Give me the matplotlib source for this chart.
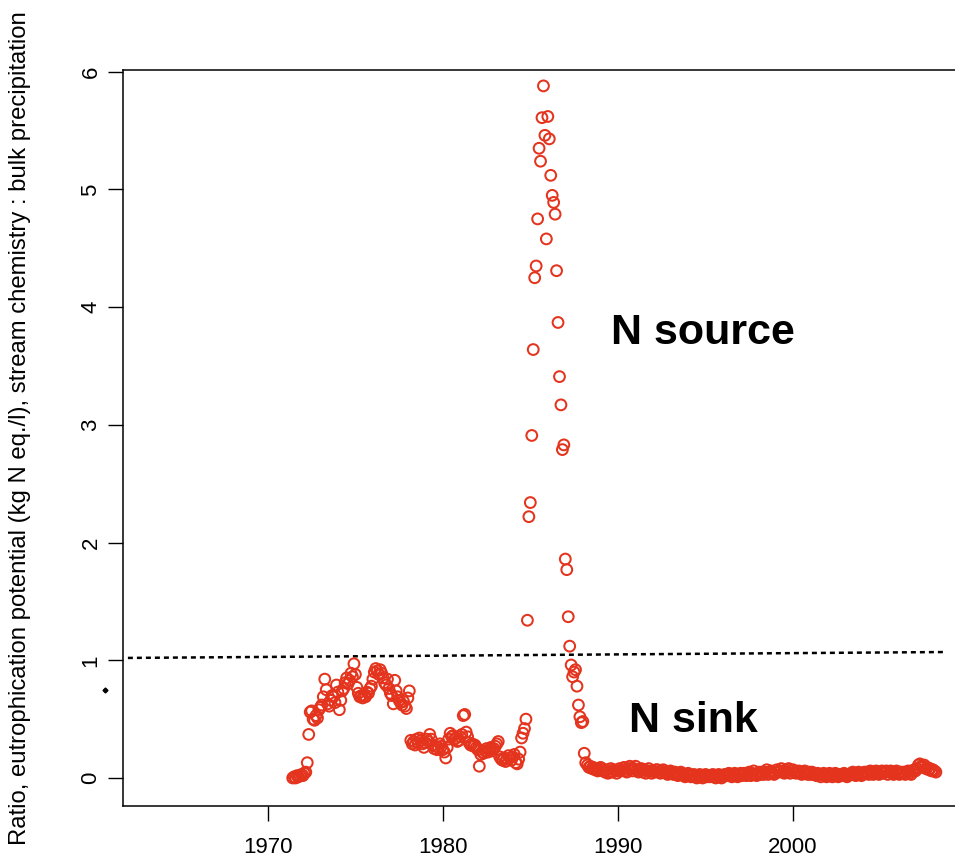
import numpy as np
import matplotlib
matplotlib.use('Agg')
import matplotlib.pyplot as plt

plt.rcParams['font.family'] = ['Liberation Sans', 'DejaVu Sans']

# monthly ratios
start_1971 = 1971.40
ratio_1971_1984 = [
    0.00, 0.01, 0.00, 0.02, 0.01, 0.02, 0.03, 0.02, 0.04, 0.05, 0.13, 0.37,
    0.56, 0.57, 0.50, 0.49, 0.53, 0.51, 0.58, 0.60, 0.62, 0.69, 0.84, 0.75,
    0.63, 0.61, 0.66, 0.70, 0.69, 0.64, 0.79, 0.73, 0.58, 0.66, 0.74, 0.76,
    0.81, 0.85, 0.80, 0.83, 0.89, 0.86, 0.97, 0.88, 0.77, 0.72, 0.69, 0.70,
    0.68, 0.70, 0.69, 0.73, 0.72, 0.76, 0.78, 0.84, 0.90, 0.93, 0.91, 0.88,
    0.92, 0.89, 0.85, 0.81, 0.79, 0.84, 0.76, 0.72, 0.70, 0.63, 0.83, 0.74,
    0.69, 0.66, 0.64, 0.62, 0.65, 0.61, 0.59, 0.68, 0.74, 0.32, 0.29, 0.31,
    0.28, 0.33, 0.30, 0.34, 0.32, 0.29, 0.26, 0.30, 0.33, 0.31, 0.37, 0.33,
    0.28, 0.25, 0.27, 0.24, 0.26, 0.29, 0.27, 0.24, 0.22, 0.17, 0.26, 0.33,
    0.38, 0.35, 0.36, 0.33, 0.34, 0.31, 0.32, 0.35, 0.37, 0.53, 0.54, 0.39,
    0.35, 0.30, 0.28, 0.29, 0.27, 0.28, 0.26, 0.24, 0.10, 0.20, 0.22, 0.21,
    0.23, 0.25, 0.22, 0.24, 0.26, 0.23, 0.25, 0.27, 0.29, 0.31, 0.18, 0.16,
    0.15, 0.17, 0.14, 0.16, 0.19, 0.17, 0.15, 0.18, 0.20, 0.13, 0.12, 0.16,
    0.22, 0.34, 0.38, 0.42, 0.50,
]
# the 1985-87 peak
ratio_peak = [
    1.34, 2.22, 2.34, 2.91, 3.64, 4.25, 4.35, 4.75, 5.35, 5.24, 5.61, 5.88,
    5.46, 4.58, 5.62, 5.43, 5.12, 4.95, 4.89, 4.79, 4.31, 3.87, 3.41, 3.17,
    2.79, 2.83, 1.86, 1.77, 1.37, 1.12, 0.96, 0.86, 0.90, 0.92, 0.78, 0.62,
    0.52, 0.47, 0.48, 0.21, 0.13,
]
# low band after 1988
start_1988 = 1988.25
ratio_1988_2008 = [
    0.11, 0.09, 0.10, 0.08, 0.09, 0.07, 0.08, 0.06, 0.07, 0.09, 0.08, 0.06,
    0.05, 0.07, 0.04, 0.05, 0.08, 0.05, 0.07, 0.06, 0.04, 0.06, 0.08, 0.06,
    0.07, 0.09, 0.06, 0.05, 0.08, 0.10, 0.08, 0.06, 0.08, 0.10, 0.07, 0.05,
    0.06, 0.08, 0.05, 0.07, 0.04, 0.06, 0.08, 0.06, 0.04, 0.06, 0.05, 0.07,
    0.07, 0.05, 0.04, 0.06, 0.07, 0.05, 0.04, 0.03, 0.05, 0.06, 0.04, 0.03,
    0.05, 0.03, 0.02, 0.04, 0.05, 0.03, 0.02, 0.01, 0.03, 0.04, 0.02, 0.01,
    0.02, 0.03, 0.01, 0.00, 0.02, 0.03, 0.01, 0.00, 0.02, 0.03, 0.01, 0.02,
    0.01, 0.02, 0.03, 0.01, 0.00, 0.02, 0.03, 0.01, 0.00, 0.02, 0.03, 0.02,
    0.03, 0.04, 0.02, 0.01, 0.03, 0.04, 0.02, 0.01, 0.03, 0.04, 0.02, 0.04,
    0.04, 0.02, 0.04, 0.05, 0.02, 0.04, 0.06, 0.03, 0.02, 0.04, 0.05, 0.03,
    0.05, 0.03, 0.05, 0.07, 0.03, 0.05, 0.06, 0.04, 0.03, 0.05, 0.07, 0.05,
    0.06, 0.08, 0.05, 0.04, 0.07, 0.05, 0.08, 0.04, 0.06, 0.07, 0.05, 0.04,
    0.05, 0.06, 0.04, 0.03, 0.05, 0.06, 0.04, 0.03, 0.05, 0.03, 0.05, 0.03,
    0.04, 0.02, 0.04, 0.03, 0.01, 0.03, 0.04, 0.02, 0.01, 0.03, 0.04, 0.02,
    0.01, 0.03, 0.04, 0.02, 0.01, 0.03, 0.02, 0.03, 0.04, 0.02, 0.01, 0.03,
    0.03, 0.04, 0.05, 0.03, 0.02, 0.04, 0.05, 0.03, 0.02, 0.04, 0.05, 0.04,
    0.05, 0.03, 0.06, 0.05, 0.03, 0.05, 0.06, 0.04, 0.03, 0.05, 0.06, 0.04,
    0.05, 0.06, 0.03, 0.05, 0.06, 0.04, 0.03, 0.05, 0.06, 0.04, 0.03, 0.05,
    0.04, 0.05, 0.03, 0.05, 0.06, 0.04, 0.03, 0.06, 0.07, 0.06, 0.08, 0.11,
    0.12, 0.10, 0.09, 0.11, 0.08, 0.09, 0.07, 0.08, 0.06, 0.07, 0.06, 0.05,
]

# dotted threshold line end points
line_x = [1961.98, 2008.57]
line_y = [1.02, 1.07]

ratio_early = np.array(ratio_1971_1984 + ratio_peak)
years_early = start_1971 + np.arange(len(ratio_early)) / 12
ratio_late = np.array(ratio_1988_2008)
years_late = start_1988 + np.arange(len(ratio_late)) / 12
years = np.concatenate([years_early, years_late])
ratio = np.concatenate([ratio_early, ratio_late])

fig = plt.figure(figsize=(9.55, 8.61), dpi=100)
ax = fig.add_axes([123/955, 1 - 806/861, (958 - 123)/955, (806 - 70)/861])

ax.scatter(years, ratio, s=60, facecolors='none', edgecolors='#e4341e', linewidths=1.45, zorder=3)
ax.plot(line_x, line_y, color='black', lw=1.8, dashes=(2, 1.6), zorder=2)

ax.text(1989.6, 3.78, 'N source', fontsize=31, fontweight='bold', va='center', ha='left')
ax.text(1990.63, 0.485, 'N sink', fontsize=31, fontweight='bold', va='center', ha='left')

ax.set_xlim(1961.7, 2009.43)
ax.set_ylim(-0.238, 6.015)
ax.set_xticks([1970, 1980, 1990, 2000])
ax.set_yticks([0, 1, 2, 3, 4, 5, 6])
ax.tick_params(axis='both', length=10.5, width=1, labelsize=16, color='black')
ax.tick_params(axis='x', pad=12)
ax.tick_params(axis='y', pad=5)
for lab in ax.get_yticklabels():
    lab.set_rotation(90)
    lab.set_va('center')
for sp in ax.spines.values():
    sp.set_linewidth(1.1)
ax.spines['right'].set_visible(False)

ax.set_ylabel('Ratio, eutrophication potential (kg N eq./l), stream chemistry : bulk precipitation', fontsize=17.2)
ax.yaxis.set_label_coords((31 - 123)/835, (806 - 428)/736)

# small stray mark left of the axis
ax.plot([1960.66], [0.75], marker='D', markersize=2.5, color='black', clip_on=False)

plt.savefig('out.png', dpi=100)
